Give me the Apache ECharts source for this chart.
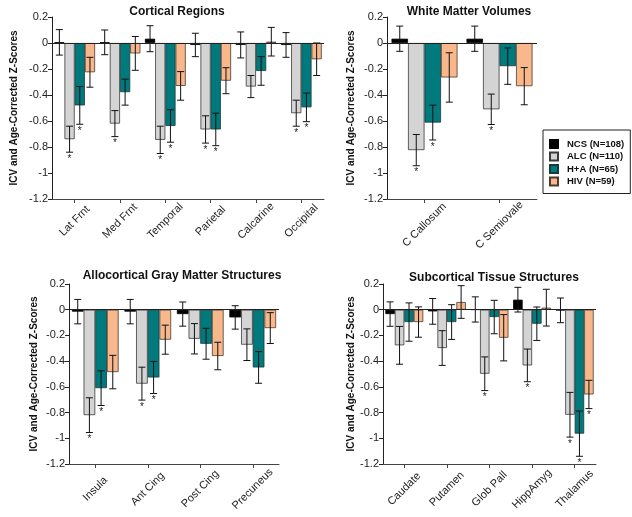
<!DOCTYPE html>
<html>
<head>
<meta charset="utf-8">
<script src="https://cdn.jsdelivr.net/npm/echarts@6/dist/echarts.min.js"></script>
<style>html,body{margin:0;padding:0;background:#fff;}#c{width:632px;height:517px;}</style>
</head>
<body>
<div id="c"></div>
<script>
const groupNames = ['NCS (N=108)', 'ALC (N=110)', 'H+A (N=65)', 'HIV (N=59)'];
const yTicks = [0.2, 0, -0.2, -0.4, -0.6, -0.8, -1, -1.2];

// Panel 1: Cortical Regions
const cortCats = ['Lat Frnt', 'Med Frnt', 'Temporal', 'Parietal', 'Calcarine', 'Occipital'];
const cortNCS = [0.005, 0.005, 0.033, -0.015, -0.015, -0.015];
const cortNCSErr = [0.098, 0.095, 0.1, 0.09, 0.1, 0.095];
const cortALC = [-0.74, -0.62, -0.745, -0.665, -0.335, -0.54];
const cortALCErr = [0.1, 0.1, 0.105, 0.105, 0.085, 0.1];
const cortHA = [-0.48, -0.378, -0.638, -0.665, -0.215, -0.495];
const cortHAErr = [0.145, 0.1, 0.125, 0.125, 0.11, 0.11];
const cortHIV = [-0.225, -0.08, -0.33, -0.29, 0.01, -0.125];
const cortHIVErr = [0.115, 0.13, 0.11, 0.1, 0.11, 0.125];
const cortNCSSig = [0, 0, 0, 0, 0, 0];
const cortALCSig = [1, 1, 1, 1, 0, 1];
const cortHASig = [1, 0, 1, 1, 0, 1];
const cortHIVSig = [0, 0, 0, 0, 0, 0];

// Panel 2: White Matter Volumes
const wmCats = ['C Callosum', 'C Semiovale'];
const wmNCS = [0.033, 0.033];
const wmNCSErr = [0.097, 0.097];
const wmALC = [-0.824, -0.51];
const wmALCErr = [0.12, 0.117];
const wmHA = [-0.612, -0.178];
const wmHAErr = [0.134, 0.14];
const wmHIV = [-0.265, -0.332];
const wmHIVErr = [0.19, 0.143];
const wmNCSSig = [0, 0];
const wmALCSig = [1, 1];
const wmHASig = [1, 0];
const wmHIVSig = [0, 0];

// Panel 3: Allocortical Gray Matter Structures
const alloCats = ['Insula', 'Ant Cing', 'Post Cing', 'Precuneus'];
const alloNCS = [-0.015, -0.015, -0.034, -0.06];
const alloNCSErr = [0.095, 0.095, 0.094, 0.091];
const alloALC = [-0.82, -0.575, -0.226, -0.272];
const alloALCErr = [0.135, 0.128, 0.118, 0.123];
const alloHA = [-0.61, -0.527, -0.265, -0.449];
const alloHAErr = [0.135, 0.125, 0.12, 0.123];
const alloHIV = [-0.485, -0.233, -0.36, -0.143];
const alloHIVErr = [0.13, 0.113, 0.107, 0.12];
const alloNCSSig = [0, 0, 0, 0];
const alloALCSig = [1, 1, 0, 0];
const alloHASig = [1, 1, 0, 0];
const alloHIVSig = [0, 0, 0, 0];

// Panel 4: Subcortical Tissue Structures
const subCats = ['Caudate', 'Putamen', 'Glob Pall', 'HippAmyg', 'Thalamus'];
const subNCS = [-0.034, -0.013, 0.002, 0.078, -0.005];
const subNCSErr = [0.095, 0.1, 0.098, 0.096, 0.096];
const subALC = [-0.277, -0.298, -0.498, -0.433, -0.817];
const subALCErr = [0.147, 0.135, 0.131, 0.127, 0.174];
const subHA = [-0.096, -0.096, -0.057, -0.109, -0.964];
const subHAErr = [0.149, 0.135, 0.13, 0.13, 0.176];
const subHIV = [-0.096, 0.06, -0.218, 0.016, -0.659];
const subHIVErr = [0.118, 0.127, 0.18, 0.143, 0.11];
const subNCSSig = [0, 0, 0, 0, 0];
const subALCSig = [0, 0, 1, 1, 1];
const subHASig = [0, 0, 0, 0, 1];
const subHIVSig = [0, 0, 0, 0, 1];

const FONT = 'Liberation Sans, Arial, Helvetica, sans-serif';
const fills = ['#000000', '#d4d4d4', '#007a7c', '#f8b88b'];
const borders = ['#000000', '#3a3a3a', '#1a3a3a', '#4a3a30'];

const panels = [
  { title: 'Cortical Regions', cats: cortCats, vals: [cortNCS, cortALC, cortHA, cortHIV], errs: [cortNCSErr, cortALCErr, cortHAErr, cortHIVErr], sig: [cortNCSSig, cortALCSig, cortHASig, cortHIVSig],
    grid: { left: 52, top: 17, width: 272, height: 182 }, gap: 0.10, nameGap: 33, titleX: 172, titleY: 1, labelMargin: 22 },
  { title: 'White Matter Volumes', cats: wmCats, vals: [wmNCS, wmALC, wmHA, wmHIV], errs: [wmNCSErr, wmALCErr, wmHAErr, wmHIVErr], sig: [wmNCSSig, wmALCSig, wmHASig, wmHIVSig],
    grid: { left: 387, top: 17, width: 150, height: 182 }, gap: 0.12, nameGap: 31, titleX: 464, titleY: 1, labelMargin: 26 },
  { title: 'Allocortical Gray Matter Structures', cats: alloCats, vals: [alloNCS, alloALC, alloHA, alloHIV], errs: [alloNCSErr, alloALCErr, alloHAErr, alloHIVErr], sig: [alloNCSSig, alloALCSig, alloHASig, alloHIVSig],
    grid: { left: 69, top: 284, width: 210, height: 180 }, gap: 0.11, nameGap: 30, titleX: 177, titleY: 265, labelMargin: 25 },
  { title: 'Subcortical Tissue Structures', cats: subCats, vals: [subNCS, subALC, subHA, subHIV], errs: [subNCSErr, subALCErr, subHAErr, subHIVErr], sig: [subNCSSig, subALCSig, subHASig, subHIVSig],
    grid: { left: 383, top: 284, width: 213, height: 180 }, gap: 0.11, nameGap: 25, titleX: 489, titleY: 267, labelMargin: 25 }
];

function errRender(gi, gap) {
  return function (params, api) {
    const ci = api.value(0), v = api.value(1), e = api.value(2), s = api.value(3);
    const band = api.size([1, 0])[0];
    const total = band * (1 - gap);
    const bw = total / 4;
    const cx = api.coord([ci, 0])[0] - total / 2 + bw * (gi + 0.5);
    const yHi = api.coord([ci, v + e])[1];
    const yLo = api.coord([ci, v - e])[1];
    const cap = 3.5;
    const ls = { stroke: '#111', lineWidth: 1 };
    const children = [
      { type: 'line', shape: { x1: cx, y1: yHi, x2: cx, y2: yLo }, style: ls },
      { type: 'line', shape: { x1: cx - cap, y1: yHi, x2: cx + cap, y2: yHi }, style: ls },
      { type: 'line', shape: { x1: cx - cap, y1: yLo, x2: cx + cap, y2: yLo }, style: ls }
    ];
    if (s) {
      children.push({ type: 'text', style: { text: '*', x: cx, y: yLo + 2, align: 'center', verticalAlign: 'top', font: '10px ' + FONT, fill: '#222' } });
    }
    return { type: 'group', children: children };
  };
}

const option = {
  backgroundColor: '#ffffff',
  animation: false,
  title: panels.map(p => ({
    text: p.title, left: p.titleX, top: p.titleY, textAlign: 'center',
    textStyle: { fontFamily: FONT, fontSize: 12, fontWeight: 'bold', color: '#111' }
  })),
  legend: {
    orient: 'vertical', left: 543, top: 130,
    data: groupNames,
    itemWidth: 8, itemHeight: 8, itemGap: 2.5,
    padding: [9, 6, 7, 6],
    borderColor: '#222', borderWidth: 1, backgroundColor: '#fff',
    icon: 'rect',
    textStyle: { fontFamily: FONT, fontSize: 9.5, fontWeight: 'bold', color: '#111', padding: [0, 0, 0, 4] }
  },
  grid: panels.map(p => Object.assign({ containLabel: false }, p.grid)),
  xAxis: panels.map((p, i) => ({
    type: 'category', gridIndex: i, data: p.cats, position: 'bottom',
    axisLine: { onZero: false, lineStyle: { color: '#444', width: 1 } },
    axisTick: { show: true, alignWithLabel: true, length: 4, lineStyle: { color: '#444' } },
    axisLabel: { rotate: 45, interval: 0, margin: p.labelMargin, align: 'center', verticalAlign: 'middle',
      fontFamily: FONT, fontSize: 11, color: '#222' },
    splitLine: { show: false }
  })),
  yAxis: panels.map((p, i) => ({
    type: 'value', gridIndex: i, min: -1.2, max: 0.2, interval: 0.2,
    name: 'ICV and Age-Corrected Z-Scores', nameLocation: 'middle', nameRotate: 90, nameGap: p.nameGap,
    nameTextStyle: { fontFamily: FONT, fontSize: 10, fontWeight: 'bold', color: '#111' },
    axisLine: { show: true, lineStyle: { color: '#222', width: 1 } },
    axisTick: { show: true, length: 4, lineStyle: { color: '#222' } },
    axisLabel: { margin: 4, fontFamily: FONT, fontSize: 11, color: '#222',
      formatter: v => { const r = Number(Number(v).toFixed(1)); return String(r === 0 ? 0 : r); } },
    splitLine: { show: false }
  })),
  series: []
};

panels.forEach((p, pi) => {
  for (let g = 0; g < 4; g++) {
    const s = {
      type: 'bar', name: groupNames[g], xAxisIndex: pi, yAxisIndex: pi,
      data: p.vals[g], barGap: '0%', barCategoryGap: (p.gap * 100) + '%',
      itemStyle: { color: fills[g], borderColor: borders[g], borderWidth: 0.8 },
      z: 2, silent: true
    };
    if (g === 0) {
      s.markLine = { silent: true, symbol: 'none', label: { show: false }, animation: false,
        lineStyle: { color: '#222', width: 1, type: 'solid' }, data: [{ yAxis: 0 }] };
    }
    option.series.push(s);
  }
  for (let g = 0; g < 4; g++) {
    option.series.push({
      type: 'custom', name: groupNames[g], xAxisIndex: pi, yAxisIndex: pi,
      renderItem: errRender(g, p.gap),
      data: p.cats.map((c, ci) => [ci, p.vals[g][ci], p.errs[g][ci], p.sig[g][ci]]),
      z: 4, silent: true
    });
  }
});

const chart = echarts.init(document.getElementById('c'), null, { renderer: 'canvas' });
chart.setOption(option);
</script>
</body>
</html>
